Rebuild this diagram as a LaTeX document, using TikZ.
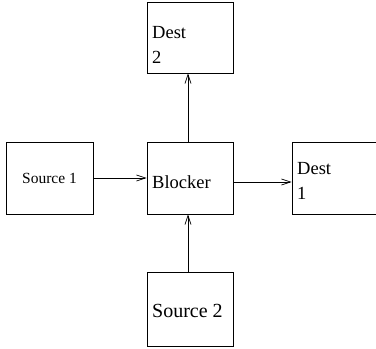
\documentclass[tikz,border=0pt]{standalone}
\usepackage{fontspec}
\setmainfont{Liberation Serif}
\usetikzlibrary{arrows.meta}

\begin{document}
\begin{tikzpicture}[x=1pt,y=-1pt,
    box/.style={draw, line width=0.9pt, minimum width=86pt, minimum height=72pt, inner sep=0pt},
    lbl/.style={font=\fontsize{18.5}{25}\selectfont, align=left, inner sep=0pt, anchor=west},
    flow/.style={draw, line width=0.9pt, -{Straight Barb[length=9pt,width=6pt,line width=0.7pt]}}]
    \useasboundingbox (0,0) rectangle (376,349);

    % Source 1
    \node[box, minimum width=87pt, font=\fontsize{15.5}{18}\selectfont] (src1) at (49.5,178) {Source 1};

    % Blocker
    \node[box] (blk) at (190,178) {};
    \node[lbl] (blkt) at (152,182) {Blocker};

    % Dest 1
    \node[box] (dst1) at (335,178) {};
    \node[lbl] (dst1t) at (297,180.5) {Dest\\1};

    % Dest 2
    \node[box, minimum height=71pt] (dst2) at (190,37.5) {};
    \node[lbl] (dst2t) at (152,45) {Dest\\2};

    % Source 2
    \node[box, minimum height=74pt] (src2) at (190,309) {};
    \node[lbl, font=\fontsize{20}{25}\selectfont] (src2t) at (152,311) {Source 2};

    % arrows
    \draw[flow] (src1.east) -- (blk.west);
    \draw[flow] (blk.east |- 0,182) -- (dst1.west |- 0,182);
    \draw[flow] (src2.north -| 188,0) -- (blk.south -| 188,0);
    \draw[flow] (blk.north -| 188,0) -- (dst2.south -| 188,0);
\end{tikzpicture}
\end{document}
